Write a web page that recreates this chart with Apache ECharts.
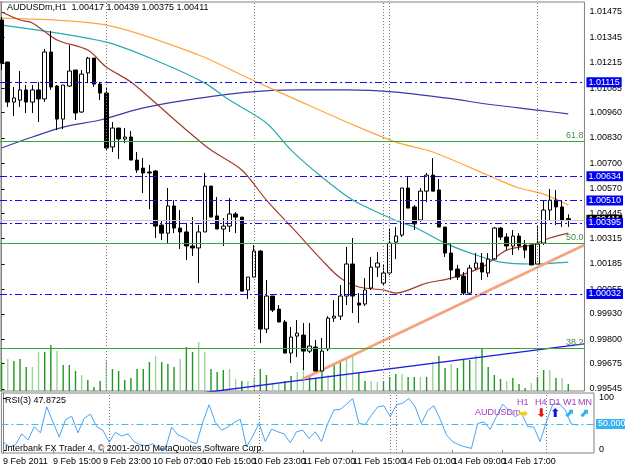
<!DOCTYPE html>
<html>
<head>
<meta charset="utf-8">
<script src="https://cdn.jsdelivr.net/npm/echarts@6/dist/echarts.min.js"></script>
<style>
  html, body { margin: 0; padding: 0; background: #fff; }
  #chart { width: 625px; height: 469px; }
</style>
</head>
<body>
<div id="chart"></div>
<script>
const SYMBOL = 'AUDUSDm,H1'
const FONT = '"Liberation Sans Narrow", "Liberation Sans", sans-serif'
const WIDE_FONT = '"Liberation Sans", sans-serif'

// time axis labels, one every 8 hourly bars
const TICK_BARS = [0, 8, 16, 24, 32, 40, 48, 56, 64, 72, 80, 88]
const TICK_LABELS = ['9 Feb 2011', '9 Feb 15:00', '9 Feb 23:00', '10 Feb 07:00', '10 Feb 15:00', '10 Feb 23:00',
  '11 Feb 07:00', '11 Feb 15:00', '14 Feb 01:00', '14 Feb 09:00', '14 Feb 17:00', '15 Feb 01:00']
const PRICE_TICKS = [0.99545, 0.99675, 0.99800, 0.99930, 1.00055, 1.00185, 1.00315, 1.00445,
  1.00570, 1.00700, 1.00830, 1.00960, 1.01085, 1.01215, 1.01345, 1.01475]
const RSI_TICKS = [0, 100]

// hourly bars, 9 Feb 07:00 .. 15 Feb 05:00
const OPEN = [
  1.01434, 1.01219, 1.01014, 1.01024, 1.01076, 1.01014, 1.01076, 1.01030, 1.01270, 1.01096,
  1.00927, 1.01096, 1.01178, 1.00963, 1.01163, 1.01239, 1.01106, 1.01060, 1.00784, 1.00881,
  1.00825, 1.00835, 1.00717, 1.00676, 1.00656, 1.00661, 1.00384, 1.00343, 1.00482, 1.00369,
  1.00349, 1.00277, 1.00267, 1.00349, 1.00584, 1.00431, 1.00364, 1.00379, 1.00441, 1.00425,
  1.00052, 1.00118, 1.00251, 0.99852, 1.00021, 0.99954, 0.99888, 0.99729, 0.99816, 0.99821,
  0.99739, 0.99760, 0.99637, 0.99750, 0.99908, 0.99918, 1.00021, 1.00185, 0.99985, 0.99980,
  1.00062, 1.00169, 1.00087, 1.00139, 1.00297, 1.00333, 1.00574, 1.00477, 1.00410, 1.00558,
  1.00640, 1.00564, 1.00374, 1.00241, 1.00159, 1.00123, 1.00036, 1.00164, 1.00190, 1.00139,
  1.00210, 1.00369, 1.00323, 1.00277, 1.00328, 1.00282, 1.00282, 1.00185, 1.00292, 1.00461,
  1.00512, 1.00477, 1.00417]
const CLOSE = [
  1.01214, 1.01014, 1.01035, 1.01076, 1.01014, 1.01076, 1.01030, 1.01270, 1.01091, 1.00927,
  1.01101, 1.01173, 1.00958, 1.01157, 1.01239, 1.01106, 1.01060, 1.00779, 1.00881, 1.00825,
  1.00835, 1.00717, 1.00666, 1.00651, 1.00651, 1.00379, 1.00343, 1.00482, 1.00369, 1.00349,
  1.00277, 1.00267, 1.00349, 1.00584, 1.00425, 1.00364, 1.00379, 1.00441, 1.00425, 1.00046,
  1.00118, 1.00251, 0.99852, 1.00021, 0.99949, 0.99888, 0.99729, 0.99811, 0.99831, 0.99739,
  0.99765, 0.99637, 0.99739, 0.99908, 0.99918, 1.00021, 1.00185, 1.00021, 0.99975, 1.00052,
  1.00169, 1.00190, 1.00139, 1.00292, 1.00328, 1.00574, 1.00471, 1.00390, 1.00558, 1.00640,
  1.00558, 1.00374, 1.00241, 1.00154, 1.00118, 1.00036, 1.00164, 1.00190, 1.00144, 1.00210,
  1.00369, 1.00323, 1.00277, 1.00328, 1.00277, 1.00256, 1.00180, 1.00287, 1.00461, 1.00512,
  1.00477, 1.00410, 1.00411]
const LOW = [
  1.01178, 1.00989, 1.00942, 1.00989, 1.00958, 1.00958, 1.00912, 1.01014, 1.01076, 1.00871,
  1.00876, 1.01091, 1.00922, 1.00958, 1.01111, 1.01091, 1.01024, 1.00768, 1.00758, 1.00722,
  1.00804, 1.00717, 1.00651, 1.00548, 1.00466, 1.00318, 1.00308, 1.00292, 1.00343, 1.00262,
  1.00205, 1.00226, 1.00087, 1.00349, 1.00425, 1.00364, 1.00277, 1.00349, 1.00343, 1.00046,
  1.00006, 1.00118, 0.99780, 0.99831, 0.99939, 0.99888, 0.99729, 0.99678, 0.99709, 0.99642,
  0.99729, 0.99637, 0.99637, 0.99739, 0.99888, 0.99898, 0.99975, 0.99934, 0.99883, 0.99970,
  1.00052, 1.00118, 1.00077, 1.00128, 1.00210, 1.00323, 1.00471, 1.00359, 1.00400, 1.00502,
  1.00558, 1.00374, 1.00221, 1.00103, 1.00103, 1.00026, 1.00026, 1.00154, 1.00103, 1.00118,
  1.00215, 1.00308, 1.00256, 1.00231, 1.00256, 1.00215, 1.00180, 1.00180, 1.00282, 1.00410,
  1.00384, 1.00374, 1.00375]
const HIGH = [
  1.01449, 1.01219, 1.01091, 1.01173, 1.01101, 1.01101, 1.01117, 1.01286, 1.01378, 1.01101,
  1.01101, 1.01306, 1.01178, 1.01178, 1.01245, 1.01239, 1.01117, 1.01086, 1.00912, 1.00881,
  1.00881, 1.00866, 1.00758, 1.00727, 1.00692, 1.00666, 1.00410, 1.00574, 1.00512, 1.00461,
  1.00395, 1.00425, 1.00384, 1.00651, 1.00584, 1.00528, 1.00420, 1.00523, 1.00451, 1.00425,
  1.00118, 1.00282, 1.00256, 1.00103, 1.00021, 0.99975, 0.99898, 0.99862, 0.99898, 0.99883,
  0.99883, 0.99796, 0.99806, 0.99918, 1.00000, 1.00077, 1.00272, 1.00318, 1.00036, 1.00113,
  1.00221, 1.00246, 1.00180, 1.00369, 1.00374, 1.00574, 1.00630, 1.00487, 1.00574, 1.00651,
  1.00727, 1.00620, 1.00374, 1.00287, 1.00180, 1.00144, 1.00180, 1.00241, 1.00241, 1.00241,
  1.00374, 1.00374, 1.00343, 1.00359, 1.00343, 1.00308, 1.00282, 1.00379, 1.00512, 1.00569,
  1.00564, 1.00512, 1.00439]
const VOLUME = [
  290, 320, 300, 320, 240, 240, 390, 390, 460, 400, 260, 260, 200, 160, 110, 40, 100, 310, 220, 200,
  110, 130, 220, 220, 290, 350, 290, 270, 240, 320, 440, 390, 490, 390, 220, 190, 210, 220, 120, 100,
  100, 140, 220, 160, 80, 70, 100, 150, 190, 230, 150, 130, 230, 160, 280, 290, 330, 350, 180, 100,
  100, 90, 100, 140, 170, 170, 140, 140, 140, 140, 290, 350, 230, 270, 230, 310, 310, 360, 420, 240,
  160, 120, 100, 130, 70, 30, 80, 140, 210, 210, 130, 130, 70]
// 1 = pale hatched volume bar
const VOL_FLAG = [
  0, 1, 0, 0, 0, 1, 1, 0, 0, 1, 0, 0, 0, 1, 0, 0, 0, 1, 0, 0,
  0, 0, 0, 0, 0, 1, 0, 0, 0, 1, 0, 0, 1, 1, 0, 0, 0, 1, 1, 0,
  1, 1, 0, 0, 1, 1, 0, 0, 1, 1, 0, 0, 0, 1, 0, 0, 1, 1, 0, 0,
  1, 1, 0, 0, 0, 1, 0, 0, 1, 0, 1, 0, 0, 1, 0, 0, 0, 1, 0, 0,
  0, 0, 1, 0, 0, 0, 1, 0, 0, 1, 0, 1, 0]
const RSI = [
  16, 6, 10, 31, 19, 45, 33, 83, 54, 25, 58, 65, 33, 61, 69, 45, 38, 15, 34, 27,
  31, 16, 10, 8, 12, 1, 1, 44, 29, 24, 16, 12, 54, 87, 53, 38, 44, 53, 59, 6,
  27, 51, 16, 40, 35, 31, 14, 35, 38, 22, 35, 16, 51, 77, 78, 88, 99, 51, 49, 67,
  83, 85, 64, 87, 90, 99, 83, 51, 76, 85, 59, 29, 16, 10, 6, 3, 51, 54, 40, 64,
  88, 76, 64, 71, 45, 44, 16, 54, 87, 90, 77, 50, 47.8725]

// moving averages read at sample bars: [bar, price]
const MA_ORANGE = [[0, 1.01444], [17, 1.01408], [32, 1.01255], [40, 1.01137], [48, 1.01024], [56, 1.00912],
  [64, 1.00809], [70, 1.00758], [80, 1.00625], [84, 1.00574], [88, 1.00543], [92, 1.00487]]
const MA_TEAL = [[0, 1.01408], [17, 1.01321], [26, 1.01214], [33, 1.01111], [37, 1.01024], [43, 1.00907],
  [47, 1.00768], [52, 1.00630], [57, 1.00512], [62, 1.00436], [65, 1.00395], [67, 1.00374], [72, 1.00292],
  [77, 1.00231], [81, 1.00195], [86, 1.00185], [92, 1.00195]]
const MA_BROWN = [[0, 1.01475], [3, 1.01434], [5, 1.01419], [9, 1.01332], [14, 1.01280], [17, 1.01193],
  [21, 1.01117], [25, 1.01009], [30, 1.00871], [34, 1.00768], [39, 1.00666], [43, 1.00512], [48, 1.00343],
  [52, 1.00205], [55, 1.00113], [58, 1.00067], [62, 1.00052], [64, 1.00036], [69, 1.00087], [73, 1.00113],
  [78, 1.00169], [82, 1.00256], [86, 1.00282], [89, 1.00318], [92, 1.00343]]
const MA_NAVY = [[0, 1.00779], [5, 1.00835], [10, 1.00886], [16, 1.00922], [23, 1.00984], [30, 1.01024],
  [40, 1.01065], [48, 1.01076], [56, 1.01076], [64, 1.01065], [72, 1.01035], [80, 1.00999], [87, 1.00973],
  [92, 1.00953]]

// drawn objects
const TREND_SALMON = [[48.9, 0.99596], [94.6, 1.00282]]
const TREND_BLUE = [[30, 0.99515], [94.6, 0.99776]]
const LEVELS = [1.01115, 1.00634, 1.00510, 1.00395, 1.00032]
const FIBO_NAMES = ['61.8', '50.0', '38.2']
const FIBO_PRICES = [1.00815, 1.00292, 0.99755]
const SEPARATORS = [17, 41, 62, 63, 87]
const RSI_LEVEL = 50

// multi-timeframe trend panel
const MTF_NAMES = ['H1', 'H4', 'D1', 'W1', 'MN']
const MTF_ARROWS = ['➡', '⬇', '⬆', '⬈', '⬈']
const MTF_COLORS = ['#f2cf1a', '#ee1111', '#1414d8', '#2fb2ee', '#2fb2ee']
const MTF_LEFT = [517, 535, 549, 563, 578]

const LAST = OPEN.length - 1
const X_MIN = -0.256
const X_MAX = 94.63

const chart = echarts.init(document.getElementById('chart'), null, { renderer: 'canvas' })

const sepStyle = { color: '#777', type: [1, 2], width: 1 }

function lineSeries(data, color, width) {
  return {
    type: 'line',
    xAxisIndex: 0,
    yAxisIndex: 0,
    data,
    smooth: 0.3,
    symbol: 'none',
    silent: true,
    lineStyle: { color, width },
    z: 3,
  }
}

const levelLabel = (bg) => ({
  show: true,
  position: 'end',
  distance: 2,
  formatter: p => Number(p.value).toFixed(5),
  backgroundColor: bg,
  color: '#fff',
  fontFamily: FONT,
  fontSize: 9,
  padding: [1, 2, 0, 2],
})

const mtfGraphics = []
MTF_NAMES.forEach((name, k) => {
  mtfGraphics.push({
    type: 'text', left: MTF_LEFT[k], top: 398, z: 100,
    style: { text: name, font: '9px ' + WIDE_FONT, fill: '#a23cc0' },
  })
  mtfGraphics.push({
    type: 'text', left: MTF_LEFT[k] + 1, top: 408, z: 100,
    style: { text: MTF_ARROWS[k], font: 'bold 12px "DejaVu Sans"', fill: MTF_COLORS[k] },
  })
})

chart.setOption({
  animation: false,
  backgroundColor: '#fff',
  textStyle: { fontFamily: FONT },
  grid: [
    { left: 0, right: 31, top: 2, height: 389, show: true, borderColor: '#808080', borderWidth: 1 },
    { left: 0, right: 31, top: 393, height: 60, show: true, borderColor: '#808080', borderWidth: 1 },
  ],
  xAxis: [
    {
      gridIndex: 0, type: 'value', min: X_MIN, max: X_MAX,
      axisLine: { show: false }, axisTick: { show: false }, axisLabel: { show: false }, splitLine: { show: false },
    },
    {
      gridIndex: 1, type: 'value', min: X_MIN, max: X_MAX,
      axisLine: { show: false },
      axisTick: { show: true, customValues: TICK_BARS, length: 3, lineStyle: { color: '#808080' } },
      axisLabel: {
        customValues: TICK_BARS,
        formatter: v => TICK_LABELS[TICK_BARS.indexOf(Math.round(v))] || '',
        align: 'left', margin: 4, color: '#000', fontSize: 9, fontFamily: FONT,
        showMinLabel: true, hideOverlap: false,
      },
      splitLine: { show: false },
    },
  ],
  yAxis: [
    {
      gridIndex: 0, type: 'value', position: 'right', min: 0.995348, max: 1.015262,
      axisLine: { show: true, lineStyle: { color: '#808080' } },
      axisTick: { show: true, customValues: PRICE_TICKS, length: 3, lineStyle: { color: '#000' } },
      axisLabel: { customValues: PRICE_TICKS, formatter: v => v.toFixed(5), margin: 5, color: '#000', fontSize: 9, fontFamily: FONT },
      splitLine: { show: false },
    },
    { gridIndex: 0, type: 'value', min: 0, max: 3890, show: false },
    {
      gridIndex: 1, type: 'value', position: 'right', min: -5.8, max: 109.6,
      axisLine: { show: true, lineStyle: { color: '#808080' } },
      axisTick: { show: true, customValues: RSI_TICKS, length: 3, lineStyle: { color: '#000' } },
      axisLabel: { customValues: RSI_TICKS, margin: 5, color: '#000', fontSize: 9, fontFamily: FONT },
      splitLine: { show: false },
    },
  ],
  series: [
    {
      type: 'bar',
      xAxisIndex: 0,
      yAxisIndex: 1,
      barWidth: 1.4,
      silent: true,
      z: 1,
      data: VOLUME.map((v, i) => ({
        value: [i, v],
        itemStyle: { color: VOL_FLAG[i] ? '#9ad49a' : '#1f961f' },
      })),
    },
    {
      // fibonacci retracement levels
      type: 'line',
      xAxisIndex: 0,
      yAxisIndex: 0,
      data: [],
      silent: true,
      z: 2,
      markLine: {
        silent: true,
        symbol: 'none',
        precision: 5,
        lineStyle: { color: '#33a833', type: 'solid', width: 1 },
        data: FIBO_PRICES.map((p, k) => ({
          yAxis: p,
          lineStyle: { color: '#33a833', type: 'solid', width: 1 },
          label: {
            show: true, position: 'insideEndTop', distance: 1, formatter: FIBO_NAMES[k],
            color: '#4a8a4a', fontSize: 9, fontFamily: FONT,
          },
        })),
      },
    },
    lineSeries(MA_NAVY, '#3a3aa8', 1.2),
    lineSeries(MA_ORANGE, '#ffa640', 1.2),
    lineSeries(MA_TEAL, '#2aa8b0', 1.2),
    lineSeries(MA_BROWN, '#a33a2a', 1.2),
    {
      type: 'line', xAxisIndex: 0, yAxisIndex: 0, data: TREND_BLUE, symbol: 'none', silent: true,
      lineStyle: { color: '#1c1ce8', width: 1.4 }, z: 3,
    },
    {
      type: 'line', xAxisIndex: 0, yAxisIndex: 0, data: TREND_SALMON, symbol: 'none', silent: true,
      lineStyle: { color: '#f7a27c', width: 2.6 }, z: 3,
    },
    {
      type: 'candlestick',
      xAxisIndex: 0,
      yAxisIndex: 0,
      barWidth: 4,
      z: 4,
      data: OPEN.map((o, i) => [i, o, CLOSE[i], LOW[i], HIGH[i]]),
      itemStyle: { color: '#fff', color0: '#000', borderColor: '#000', borderColor0: '#000', borderWidth: 1 },
      markLine: {
        silent: true,
        symbol: 'none',
        precision: 5,
        data: [
          { yAxis: CLOSE[LAST], lineStyle: { color: '#c8c8c8', type: 'solid', width: 1 }, label: levelLabel('#000') },
          ...SEPARATORS.map(x => ({ xAxis: x, lineStyle: sepStyle, label: { show: false } })),
          ...LEVELS.map(p => ({
            yAxis: p,
            lineStyle: { color: '#1010f0', type: [7, 3, 2, 3], width: 1 },
            label: levelLabel('#0000f0'),
          })),
        ],
      },
    },
    {
      type: 'line',
      xAxisIndex: 1,
      yAxisIndex: 2,
      data: RSI.map((v, i) => [i, v]),
      symbol: 'none',
      silent: true,
      lineStyle: { color: '#4aa4f4', width: 1 },
      markLine: {
        silent: true,
        symbol: 'none',
        precision: 4,
        data: [
          ...SEPARATORS.map(x => ({ xAxis: x, lineStyle: sepStyle, label: { show: false } })),
          {
            yAxis: RSI_LEVEL,
            lineStyle: { color: '#33c4ee', type: [7, 3, 2, 3], width: 1 },
            label: {
              show: true, position: 'end', distance: 2, formatter: RSI_LEVEL.toFixed(4),
              backgroundColor: '#33b4ee', color: '#fff', fontSize: 9, fontFamily: FONT, padding: [1, 2, 0, 2],
            },
          },
        ],
      },
    },
  ],
  graphic: [
    {
      type: 'text', left: 7, top: 3, z: 100,
      style: {
        text: SYMBOL + '  ' + [OPEN[LAST], HIGH[LAST], LOW[LAST], CLOSE[LAST]].map(v => v.toFixed(5)).join(' '),
        font: '9px ' + FONT, fill: '#000',
      },
    },
    {
      type: 'text', left: 5, top: 396, z: 100,
      style: { text: 'RSI(3) ' + RSI[LAST].toFixed(4), font: '9px ' + FONT, fill: '#000' },
    },
    {
      type: 'text', left: 5, top: 444, z: 100,
      style: { text: 'Interbank FX Trader 4, © 2001-2010 MetaQuotes Software Corp.', font: '9px ' + FONT, fill: '#000' },
    },
    { type: 'text', left: 475, top: 408, z: 100, style: { text: 'AUDUSDm', font: '9px ' + WIDE_FONT, fill: '#a23cc0' } },
    ...mtfGraphics,
  ],
})
</script>
</body>
</html>
